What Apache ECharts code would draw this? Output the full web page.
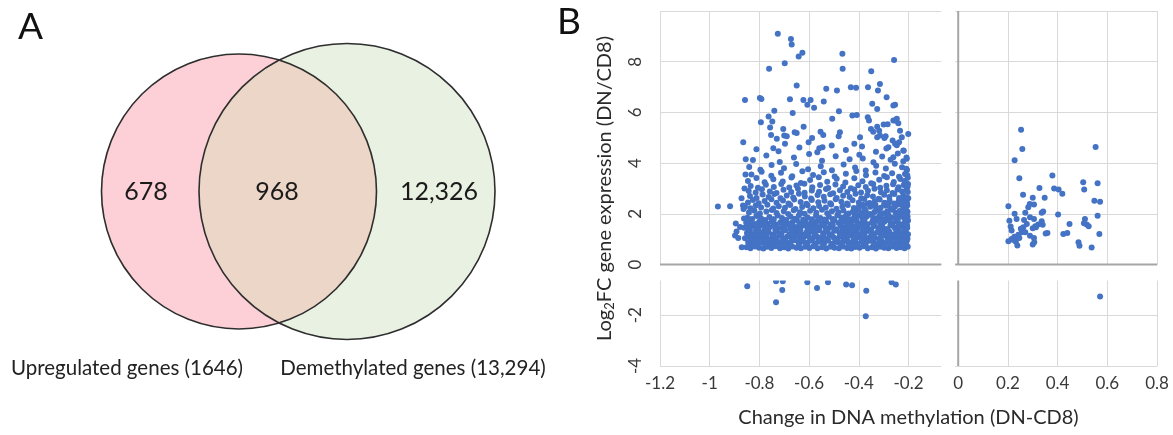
<!DOCTYPE html>
<html>
<head>
<meta charset="utf-8">
<script src="https://cdn.jsdelivr.net/npm/echarts/dist/echarts.min.js"></script>
<style>
  html, body { margin: 0; padding: 0; background: #fff; }
  #chart { width: 1173px; height: 435px; }
</style>
</head>
<body>
<div id="chart"></div>
<script>
// ~~ Data

const vennSetLabels = ['Upregulated genes (1646)', 'Demethylated genes (13,294)']
const vennRegionCounts = [678, 968, 12326]

// demethylated side, upregulated (sparse upper part)
const leftSparse = [
  [-0.726, 9.1], [-0.673, 8.9], [-0.67, 8.68], [-0.627, 8.35], [-0.642, 8.21], [-0.698, 7.94], [-0.466, 8.31], [-0.465, 7.72],
  [-0.761, 7.72], [-0.258, 8.07], [-0.35, 7.62], [-0.65, 7.06], [-0.531, 6.93], [-0.488, 6.86], [-0.432, 6.99], [-0.411, 6.97],
  [-0.363, 6.99], [-0.315, 7.12], [-0.323, 6.86], [-0.858, 6.49], [-0.798, 6.57], [-0.792, 6.53], [-0.677, 6.52], [-0.623, 6.49],
  [-0.594, 6.49], [-0.607, 6.3], [-0.58, 6.18], [-0.541, 6.43], [-0.346, 6.34], [-0.326, 6.14], [-0.288, 6.6], [-0.254, 6.3],
  [-0.74, 6.07], [-0.666, 5.98], [-0.48, 6.05], [-0.426, 5.88], [-0.408, 5.9], [-0.364, 5.81], [-0.359, 5.68], [-0.507, 5.75],
  [-0.763, 5.84], [-0.794, 5.61], [-0.748, 5.64], [-0.757, 5.41], [-0.704, 5.35], [-0.622, 5.44], [-0.658, 5.22], [-0.65, 5.19],
  [-0.554, 5.24], [-0.543, 5.11], [-0.588, 4.99], [-0.602, 4.82], [-0.476, 5.22], [-0.481, 5.06], [-0.395, 5.02], [-0.418, 4.76],
  [-0.351, 5.35], [-0.326, 5.44], [-0.3, 5.52], [-0.284, 5.53], [-0.254, 5.68], [-0.247, 5.75], [-0.241, 5.57], [-0.234, 5.28],
  [-0.318, 5.28], [-0.342, 5.24], [-0.292, 5.06], [-0.326, 5.02], [-0.297, 4.99], [-0.264, 4.89], [-0.238, 4.82], [-0.201, 5.15],
  [-0.865, 4.82], [-0.753, 5.11], [-0.73, 4.96], [-0.744, 4.59], [-0.7, 5.09], [-0.69, 5.06], [-0.697, 4.76], [-0.546, 4.63],
  [-0.559, 4.59], [-0.261, 6.27], [-0.261, 5.68], [-0.227, 5.02], [-0.315, 5.09], [-0.254, 4.76], [-0.281, 4.63], [-0.221, 4.5],
  [-0.261, 4.23], [-0.207, 4.17], [-0.855, 4.15],
  [-0.812, 4.55], [-0.723, 4.47], [-0.639, 4.62], [-0.567, 4.43], [-0.509, 4.7], [-0.452, 4.52], [-0.387, 4.66], [-0.331, 4.45],
  [-0.289, 4.58], [-0.247, 4.71], [-0.219, 4.49],
]

// demethylated side, upregulated (dense lower part)
const leftDense = [
  [-0.852, 0.68], [-0.836, 0.64], [-0.818, 0.71], [-0.801, 0.66], [-0.784, 0.63], [-0.769, 0.7], [-0.752, 0.65], [-0.735, 0.72],
  [-0.717, 0.64], [-0.7, 0.68], [-0.684, 0.63], [-0.668, 0.71], [-0.651, 0.66], [-0.633, 0.64], [-0.616, 0.7], [-0.599, 0.65],
  [-0.583, 0.72], [-0.566, 0.64], [-0.548, 0.68], [-0.531, 0.63], [-0.515, 0.7], [-0.498, 0.66], [-0.48, 0.64], [-0.463, 0.71],
  [-0.447, 0.65], [-0.43, 0.63], [-0.414, 0.69], [-0.397, 0.66], [-0.381, 0.72], [-0.364, 0.64], [-0.347, 0.68], [-0.331, 0.63],
  [-0.314, 0.7], [-0.298, 0.66], [-0.281, 0.64], [-0.265, 0.71], [-0.248, 0.65], [-0.232, 0.68], [-0.216, 0.64], [-0.203, 0.7],
  [-0.845, 0.88], [-0.826, 0.84], [-0.809, 0.93], [-0.79, 0.86], [-0.774, 0.95], [-0.757, 0.83], [-0.741, 0.9], [-0.724, 0.85],
  [-0.707, 0.94], [-0.69, 0.82], [-0.674, 0.89], [-0.657, 0.96], [-0.64, 0.84], [-0.624, 0.91], [-0.606, 0.86], [-0.59, 0.95],
  [-0.574, 0.83], [-0.556, 0.9], [-0.54, 0.87], [-0.523, 0.94], [-0.506, 0.82], [-0.49, 0.89], [-0.472, 0.85], [-0.456, 0.93],
  [-0.439, 0.86], [-0.422, 0.95], [-0.405, 0.83], [-0.389, 0.9], [-0.372, 0.85], [-0.356, 0.94], [-0.339, 0.87], [-0.322, 0.82],
  [-0.306, 0.91], [-0.289, 0.85], [-0.273, 0.94], [-0.256, 0.83], [-0.24, 0.9], [-0.223, 0.86], [-0.207, 0.93],
  [-0.858, 1.04], [-0.84, 1.1], [-0.823, 1.02], [-0.805, 1.13], [-0.788, 1.06], [-0.771, 1.15], [-0.754, 1.01], [-0.737, 1.08],
  [-0.72, 1.14], [-0.703, 1.03], [-0.687, 1.11], [-0.67, 1.05], [-0.653, 1.16], [-0.636, 1.02], [-0.62, 1.09], [-0.602, 1.13],
  [-0.585, 1.04], [-0.569, 1.12], [-0.551, 1.06], [-0.535, 1.01], [-0.518, 1.14], [-0.501, 1.07], [-0.485, 1.03], [-0.468, 1.11],
  [-0.451, 1.05], [-0.434, 1.15], [-0.418, 1.02], [-0.401, 1.09], [-0.385, 1.13], [-0.368, 1.04], [-0.352, 1.11], [-0.335, 1.06],
  [-0.318, 1.01], [-0.302, 1.14], [-0.285, 1.07], [-0.269, 1.03], [-0.252, 1.12], [-0.236, 1.05], [-0.219, 1.15], [-0.204, 1.02],
  [-0.85, 1.25], [-0.832, 1.2], [-0.815, 1.31], [-0.797, 1.22], [-0.781, 1.34], [-0.763, 1.27], [-0.746, 1.19], [-0.729, 1.3],
  [-0.712, 1.23], [-0.696, 1.35], [-0.679, 1.21], [-0.662, 1.28], [-0.645, 1.33], [-0.628, 1.19], [-0.611, 1.26], [-0.594, 1.31],
  [-0.578, 1.22], [-0.56, 1.35], [-0.543, 1.24], [-0.527, 1.29], [-0.51, 1.2], [-0.493, 1.33], [-0.476, 1.25], [-0.46, 1.19],
  [-0.443, 1.3], [-0.426, 1.23], [-0.41, 1.34], [-0.393, 1.21], [-0.376, 1.28], [-0.36, 1.32], [-0.343, 1.2], [-0.327, 1.26],
  [-0.31, 1.35], [-0.293, 1.22], [-0.277, 1.29], [-0.26, 1.19], [-0.244, 1.31], [-0.227, 1.24], [-0.211, 1.33], [-0.202, 1.2],
  [-0.862, 1.45], [-0.845, 1.4], [-0.827, 1.52], [-0.81, 1.43], [-0.793, 1.55], [-0.776, 1.39], [-0.759, 1.47], [-0.742, 1.53],
  [-0.725, 1.41], [-0.708, 1.49], [-0.692, 1.56], [-0.675, 1.42], [-0.658, 1.48], [-0.641, 1.38], [-0.625, 1.54], [-0.607, 1.44],
  [-0.59, 1.5], [-0.573, 1.4], [-0.557, 1.47], [-0.539, 1.55], [-0.523, 1.42], [-0.506, 1.49], [-0.489, 1.39], [-0.472, 1.53],
  [-0.455, 1.45], [-0.439, 1.4], [-0.422, 1.51], [-0.405, 1.43], [-0.389, 1.56], [-0.372, 1.46], [-0.355, 1.39], [-0.339, 1.52],
  [-0.322, 1.44], [-0.306, 1.49], [-0.289, 1.4], [-0.272, 1.54], [-0.256, 1.46], [-0.239, 1.41], [-0.222, 1.52], [-0.205, 1.45],
  [-0.853, 1.65], [-0.836, 1.72], [-0.818, 1.6], [-0.801, 1.69], [-0.785, 1.75], [-0.767, 1.62], [-0.75, 1.7], [-0.733, 1.58],
  [-0.716, 1.66], [-0.699, 1.74], [-0.683, 1.61], [-0.666, 1.68], [-0.649, 1.76], [-0.632, 1.63], [-0.615, 1.71], [-0.598, 1.59],
  [-0.582, 1.67], [-0.565, 1.73], [-0.548, 1.62], [-0.531, 1.69], [-0.514, 1.58], [-0.498, 1.75], [-0.481, 1.64], [-0.464, 1.7],
  [-0.447, 1.6], [-0.431, 1.68], [-0.414, 1.74], [-0.397, 1.62], [-0.38, 1.7], [-0.364, 1.59], [-0.347, 1.66], [-0.331, 1.73],
  [-0.314, 1.61], [-0.297, 1.69], [-0.281, 1.76], [-0.264, 1.63], [-0.247, 1.7], [-0.231, 1.59], [-0.214, 1.67], [-0.202, 1.74],
  [-0.848, 1.85], [-0.829, 1.8], [-0.812, 1.92], [-0.794, 1.83], [-0.76, 1.88], [-0.743, 1.79], [-0.726, 1.94], [-0.709, 1.84],
  [-0.675, 1.9], [-0.658, 1.81], [-0.641, 1.95], [-0.606, 1.86], [-0.589, 1.79], [-0.572, 1.93], [-0.555, 1.84], [-0.52, 1.89],
  [-0.503, 1.8], [-0.486, 1.95], [-0.469, 1.85], [-0.452, 1.91], [-0.435, 1.79], [-0.418, 1.87], [-0.402, 1.94], [-0.385, 1.82],
  [-0.368, 1.9], [-0.351, 1.96], [-0.335, 1.83], [-0.318, 1.89], [-0.301, 1.8], [-0.285, 1.93], [-0.268, 1.86], [-0.251, 1.81],
  [-0.235, 1.92], [-0.218, 1.84], [-0.204, 1.9],
  [-0.842, 2.05], [-0.82, 2.12], [-0.798, 2.01], [-0.772, 2.09], [-0.75, 2.15], [-0.731, 2.03], [-0.702, 2.1], [-0.684, 1.99],
  [-0.662, 2.14], [-0.636, 2.06], [-0.618, 2.0], [-0.596, 2.12], [-0.571, 2.04], [-0.548, 2.16], [-0.527, 2.02], [-0.508, 2.1],
  [-0.482, 2.05], [-0.462, 2.13], [-0.441, 2.01], [-0.424, 2.08], [-0.407, 2.15], [-0.39, 2.03], [-0.372, 2.11], [-0.355, 1.99],
  [-0.337, 2.07], [-0.32, 2.14], [-0.303, 2.02], [-0.286, 2.09], [-0.269, 2.16], [-0.252, 2.04], [-0.236, 2.11], [-0.219, 2.0],
  [-0.204, 2.08],
  [-0.858, 2.28], [-0.836, 2.22], [-0.815, 2.33], [-0.793, 2.25], [-0.768, 2.36], [-0.744, 2.21], [-0.722, 2.3], [-0.697, 2.24],
  [-0.676, 2.35], [-0.655, 2.19], [-0.628, 2.27], [-0.606, 2.34], [-0.583, 2.22], [-0.56, 2.31], [-0.533, 2.25], [-0.511, 2.37],
  [-0.49, 2.2], [-0.466, 2.29], [-0.444, 2.35], [-0.42, 2.23], [-0.399, 2.31], [-0.376, 2.19], [-0.354, 2.28], [-0.333, 2.36],
  [-0.312, 2.24], [-0.291, 2.32], [-0.272, 2.21], [-0.254, 2.29], [-0.237, 2.37], [-0.221, 2.25], [-0.205, 2.33],
  [-0.846, 2.45], [-0.826, 2.55], [-0.803, 2.42], [-0.779, 2.51], [-0.752, 2.58], [-0.731, 2.44], [-0.705, 2.53], [-0.683, 2.41],
  [-0.66, 2.57], [-0.634, 2.47], [-0.611, 2.4], [-0.589, 2.55], [-0.563, 2.46], [-0.538, 2.52], [-0.515, 2.42], [-0.493, 2.58],
  [-0.47, 2.48], [-0.447, 2.41], [-0.425, 2.54], [-0.4, 2.45], [-0.378, 2.59], [-0.357, 2.43], [-0.336, 2.5], [-0.316, 2.57],
  [-0.296, 2.44], [-0.276, 2.52], [-0.258, 2.41], [-0.24, 2.49], [-0.223, 2.56], [-0.206, 2.44],
  [-0.838, 2.7], [-0.812, 2.63], [-0.787, 2.76], [-0.763, 2.66], [-0.74, 2.78], [-0.715, 2.62], [-0.69, 2.72], [-0.664, 2.65],
  [-0.641, 2.79], [-0.617, 2.68], [-0.592, 2.61], [-0.566, 2.74], [-0.541, 2.67], [-0.515, 2.77], [-0.489, 2.63], [-0.463, 2.71],
  [-0.437, 2.66], [-0.413, 2.79], [-0.39, 2.62], [-0.366, 2.73], [-0.343, 2.68], [-0.32, 2.6], [-0.298, 2.75], [-0.277, 2.66],
  [-0.257, 2.78], [-0.238, 2.63], [-0.221, 2.71], [-0.205, 2.64],
  [-0.843, 2.9], [-0.815, 2.84], [-0.79, 2.97], [-0.758, 2.88], [-0.731, 2.82], [-0.703, 2.95], [-0.672, 2.86], [-0.645, 2.99],
  [-0.618, 2.83], [-0.589, 2.92], [-0.56, 2.87], [-0.532, 2.98], [-0.503, 2.81], [-0.476, 2.93], [-0.446, 2.86], [-0.418, 2.96],
  [-0.391, 2.84], [-0.363, 2.91], [-0.337, 2.99], [-0.311, 2.85], [-0.287, 2.93], [-0.264, 2.82], [-0.244, 2.96], [-0.226, 2.88],
  [-0.208, 2.97],
  [-0.835, 3.1], [-0.806, 3.03], [-0.774, 3.15], [-0.742, 3.06], [-0.712, 3.18], [-0.68, 3.04], [-0.651, 3.12], [-0.619, 3.19],
  [-0.587, 3.05], [-0.556, 3.14], [-0.523, 3.02], [-0.494, 3.16], [-0.463, 3.08], [-0.432, 3.01], [-0.402, 3.13], [-0.372, 3.06],
  [-0.342, 3.18], [-0.314, 3.03], [-0.289, 3.11], [-0.262, 3.17], [-0.24, 3.05], [-0.219, 3.14], [-0.204, 3.07],
  [-0.846, 3.3], [-0.812, 3.41], [-0.779, 3.25], [-0.744, 3.36], [-0.706, 3.28], [-0.671, 3.43], [-0.633, 3.22], [-0.596, 3.34],
  [-0.561, 3.44], [-0.527, 3.27], [-0.489, 3.38], [-0.454, 3.24], [-0.418, 3.4], [-0.385, 3.29], [-0.35, 3.21], [-0.318, 3.35],
  [-0.287, 3.44], [-0.259, 3.26], [-0.233, 3.37], [-0.212, 3.23], [-0.203, 3.42],
  [-0.832, 3.55], [-0.791, 3.66], [-0.752, 3.5], [-0.713, 3.62], [-0.668, 3.48], [-0.627, 3.68], [-0.584, 3.53], [-0.541, 3.64],
  [-0.497, 3.47], [-0.452, 3.58], [-0.41, 3.69], [-0.371, 3.52], [-0.333, 3.63], [-0.298, 3.49], [-0.266, 3.6], [-0.238, 3.46],
  [-0.214, 3.57],
  [-0.841, 3.85], [-0.796, 3.74], [-0.751, 3.93], [-0.701, 3.8], [-0.652, 3.97], [-0.604, 3.76], [-0.553, 3.88], [-0.508, 3.72],
  [-0.461, 3.95], [-0.415, 3.83], [-0.372, 3.71], [-0.33, 3.9], [-0.291, 3.79], [-0.255, 3.98], [-0.226, 3.84], [-0.206, 3.73],
  [-0.826, 4.12], [-0.772, 4.3], [-0.718, 4.05], [-0.661, 4.22], [-0.6, 4.36], [-0.548, 4.09], [-0.493, 4.27], [-0.437, 4.15],
  [-0.398, 4.33], [-0.384, 4.18], [-0.341, 4.04], [-0.306, 4.26], [-0.272, 4.13], [-0.243, 4.38], [-0.221, 4.07], [-0.208, 4.22],
  // left edge stragglers
  [-0.967, 2.29], [-0.918, 2.3], [-0.895, 1.62], [-0.892, 1.3], [-0.898, 1.15], [-0.885, 1.05], [-0.871, 0.68], [-0.866, 2.33],
  [-0.864, 2.19], [-0.878, 1.48], [-0.862, 1.82], [-0.872, 2.62], [-0.856, 3.55], [-0.86, 3.0],
  // right edge column
  [-0.201, 2.62], [-0.203, 2.86], [-0.202, 3.18], [-0.205, 3.52], [-0.209, 3.78], [-0.213, 2.48], [-0.216, 3.3], [-0.211, 2.2],
  [-0.214, 1.98],
  // extra fill where the cloud is solid
  [-0.44, 0.78], [-0.423, 0.8], [-0.406, 0.76], [-0.373, 0.78], [-0.339, 0.77], [-0.306, 0.79], [-0.273, 0.78], [-0.24, 0.77],
  [-0.209, 0.8], [-0.447, 0.97], [-0.414, 0.99], [-0.381, 0.97], [-0.347, 0.98], [-0.314, 0.96], [-0.281, 0.99], [-0.248, 0.97],
  [-0.215, 0.98], [-0.443, 1.17], [-0.41, 1.16], [-0.377, 1.18], [-0.343, 1.17], [-0.31, 1.16], [-0.277, 1.18], [-0.243, 1.17],
  [-0.21, 1.16], [-0.451, 1.37], [-0.418, 1.36], [-0.384, 1.37], [-0.35, 1.36], [-0.317, 1.37], [-0.284, 1.36], [-0.25, 1.37],
  [-0.217, 1.36], [-0.439, 1.57], [-0.406, 1.56], [-0.372, 1.57], [-0.339, 1.56], [-0.306, 1.57], [-0.272, 1.56], [-0.239, 1.57],
  [-0.206, 1.56], [-0.444, 1.77], [-0.41, 1.76], [-0.377, 1.77], [-0.343, 1.76], [-0.31, 1.77], [-0.277, 1.76], [-0.243, 1.77],
  [-0.21, 1.76], [-0.448, 1.97], [-0.415, 1.96], [-0.381, 1.97], [-0.348, 1.96], [-0.314, 1.97], [-0.281, 1.96], [-0.247, 1.97],
  [-0.213, 1.96],
  [-0.843, 0.77], [-0.81, 0.79], [-0.776, 0.78], [-0.743, 0.8], [-0.709, 0.77], [-0.676, 0.79], [-0.642, 0.78], [-0.609, 0.8],
  [-0.575, 0.77], [-0.541, 0.79], [-0.508, 0.78], [-0.474, 0.8], [-0.835, 0.97], [-0.8, 0.99], [-0.765, 0.96], [-0.73, 0.98],
  [-0.696, 0.97], [-0.663, 0.99], [-0.629, 0.96], [-0.596, 0.98], [-0.562, 0.97], [-0.529, 0.99], [-0.494, 0.96], [-0.461, 0.98],
  [-0.847, 1.16], [-0.813, 1.18], [-0.779, 1.17], [-0.745, 1.16], [-0.711, 1.18], [-0.677, 1.17], [-0.644, 1.16], [-0.61, 1.18],
  [-0.577, 1.17], [-0.543, 1.16], [-0.51, 1.18], [-0.476, 1.17], [-0.838, 1.36], [-0.804, 1.37], [-0.77, 1.36], [-0.736, 1.37],
  [-0.702, 1.36], [-0.668, 1.37], [-0.635, 1.36], [-0.601, 1.37], [-0.567, 1.36], [-0.533, 1.37], [-0.499, 1.36], [-0.466, 1.37],
  [-0.844, 1.57], [-0.81, 1.56], [-0.776, 1.57], [-0.742, 1.56], [-0.708, 1.58], [-0.674, 1.56], [-0.64, 1.57], [-0.606, 1.56],
  [-0.573, 1.58], [-0.539, 1.56], [-0.505, 1.57], [-0.472, 1.56], [-0.838, 1.77], [-0.777, 1.76], [-0.743, 1.78], [-0.692, 1.76],
  [-0.624, 1.77], [-0.59, 1.76], [-0.538, 1.78], [-0.504, 1.76], [-0.47, 1.77],
  [-0.4, 2.22], [-0.366, 2.4], [-0.33, 2.2], [-0.298, 2.38], [-0.262, 2.22], [-0.229, 2.42], [-0.213, 2.14], [-0.385, 2.36],
  [-0.346, 2.34], [-0.281, 2.4],
]

// hypermethylated side
const rightPoints = [
  [0.253, 5.32], [0.258, 4.56], [0.227, 4.11], [0.553, 4.64], [0.246, 3.4], [0.379, 3.51], [0.503, 3.25], [0.507, 2.96],
  [0.561, 3.21], [0.386, 3.0], [0.404, 2.96], [0.419, 2.79], [0.327, 3.02], [0.261, 2.75], [0.3, 2.64], [0.348, 2.64],
  [0.548, 2.52], [0.571, 2.48], [0.288, 2.39], [0.305, 2.37], [0.282, 2.26], [0.202, 2.3], [0.227, 2.0], [0.27, 2.04],
  [0.336, 2.04], [0.342, 2.09], [0.402, 1.97], [0.561, 1.93], [0.206, 1.73], [0.211, 1.5], [0.215, 1.34], [0.235, 1.8],
  [0.265, 1.76], [0.289, 1.87], [0.305, 1.8], [0.336, 1.71], [0.34, 1.57], [0.322, 1.58], [0.313, 1.47], [0.3, 1.43],
  [0.276, 1.6], [0.262, 1.47], [0.252, 1.41], [0.256, 1.27], [0.242, 1.18], [0.226, 1.1], [0.215, 1.01], [0.202, 0.92],
  [0.229, 0.95], [0.238, 0.75], [0.246, 1.05], [0.27, 1.27], [0.289, 1.14], [0.31, 1.51], [0.352, 1.23], [0.359, 1.25],
  [0.305, 1.05], [0.3, 0.79], [0.306, 0.88], [0.423, 1.21], [0.439, 1.25], [0.448, 1.6], [0.51, 1.8], [0.517, 1.58],
  [0.525, 1.51], [0.506, 1.63], [0.484, 0.88], [0.488, 0.74], [0.537, 0.67], [0.568, 1.21], [0.22, 0.98], [0.232, 0.9],
]

// downregulated genes
const belowZero = [
  [-0.849, -0.85], [-0.733, -0.66], [-0.706, -0.66], [-0.708, -1.0], [-0.733, -1.49], [-0.607, -0.7], [-0.568, -0.92],
  [-0.524, -0.7], [-0.451, -0.79], [-0.427, -0.82], [-0.37, -1.03], [-0.372, -2.04], [-0.268, -0.7], [-0.251, -0.79],
  [0.571, -1.26],
]

// ~~ Layout

const FONT = 'Lato, "Open Sans", sans-serif'
const BLUE = '#4472c4'

const xRange = [-1.2, 0.8]
const yRange = [-4, 10]
const breakX = [-0.068, -0.012]
const breakY = [-0.02, -0.63]

// venn geometry in panel A pixels
const vennCenterX = [239, 347]
const vennCenterY = 191.5
const vennRadius = [137.5, 148]
const vennCountX = [146, 277, 439]
const vennLabelX = [127, 413]
const vennLabelY = 368

const renderVenn = function (params, api) {
  const c1 = api.coord([vennCenterX[0], vennCenterY])
  const c2 = api.coord([vennCenterX[1], vennCenterY])
  const r1 = api.size([vennRadius[0], 0])[0]
  const r2 = api.size([vennRadius[1], 0])[0]
  const d = c2[0] - c1[0]
  const a = (d * d + r1 * r1 - r2 * r2) / (2 * d)
  const h = Math.sqrt(r1 * r1 - a * a)
  const ix = c1[0] + a
  const top = c1[1] - h
  const bottom = c1[1] + h
  const lens = `M${ix} ${top} A${r1} ${r1} 0 0 1 ${ix} ${bottom} A${r2} ${r2} 0 0 1 ${ix} ${top} Z`

  const children = [
    { type: 'circle', shape: { cx: c1[0], cy: c1[1], r: r1 }, style: { fill: '#fcd0d6' } },
    { type: 'circle', shape: { cx: c2[0], cy: c2[1], r: r2 }, style: { fill: '#e9f1e3' } },
    { type: 'path', shape: { pathData: lens }, style: { fill: '#ecd6c8' } },
    { type: 'circle', shape: { cx: c1[0], cy: c1[1], r: r1 }, style: { fill: null, stroke: '#2e2e2e', lineWidth: 1.6 } },
    { type: 'circle', shape: { cx: c2[0], cy: c2[1], r: r2 }, style: { fill: null, stroke: '#2e2e2e', lineWidth: 1.6 } },
  ]

  vennCountX.forEach((x, i) => {
    const p = api.coord([x, vennCenterY])
    children.push({
      type: 'text',
      x: p[0],
      y: p[1],
      style: {
        text: api.value(i).toLocaleString('en-US'),
        fontFamily: FONT,
        fontSize: 25,
        fill: '#1a1a1a',
        align: 'center',
        verticalAlign: 'middle',
      },
    })
  })

  vennLabelX.forEach((x, i) => {
    const p = api.coord([x, vennLabelY])
    children.push({
      type: 'text',
      x: p[0],
      y: p[1],
      style: {
        text: vennSetLabels[i],
        fontFamily: FONT,
        fontSize: 20.5,
        fill: '#222',
        align: 'center',
        verticalAlign: 'middle',
      },
    })
  })

  return { type: 'group', children: children }
}

// broken axes: white gaps over the grid lines, then the darker zero lines
const renderFrame = function (params, api) {
  const tl = api.coord([xRange[0], yRange[1]])
  const br = api.coord([xRange[1], yRange[0]])
  const gx0 = api.coord([breakX[0], 0])[0]
  const gx1 = api.coord([breakX[1], 0])[0]
  const gy0 = api.coord([0, breakY[0]])[1]
  const gy1 = api.coord([0, breakY[1]])[1]
  const zero = api.coord([0, 0])
  const axisStyle = { stroke: '#a6a6a6', lineWidth: 2 }

  return {
    type: 'group',
    children: [
      { type: 'rect', shape: { x: gx0, y: tl[1] - 2, width: gx1 - gx0, height: br[1] - tl[1] + 4 }, style: { fill: '#fff' } },
      { type: 'rect', shape: { x: tl[0] - 2, y: gy0, width: br[0] - tl[0] + 4, height: gy1 - gy0 }, style: { fill: '#fff' } },
      { type: 'line', shape: { x1: tl[0], y1: zero[1], x2: gx0, y2: zero[1] }, style: axisStyle },
      { type: 'line', shape: { x1: gx1, y1: zero[1], x2: br[0], y2: zero[1] }, style: axisStyle },
      { type: 'line', shape: { x1: zero[0], y1: tl[1], x2: zero[0], y2: zero[1] }, style: axisStyle },
      { type: 'line', shape: { x1: zero[0], y1: gy1, x2: zero[0], y2: br[1] }, style: axisStyle },
    ],
  }
}

const hiddenAxis = { show: false, type: 'value' }

const option = {
  animation: false,
  title: [
    { text: 'A', left: 13, top: 4, textStyle: { fontFamily: FONT, fontSize: 37, fontWeight: 'normal', color: '#111' } },
    { text: 'B', left: 552, top: -1, textStyle: { fontFamily: FONT, fontSize: 37, fontWeight: 'normal', color: '#111' } },
  ],
  grid: [
    { left: 660, top: 11, width: 497, height: 355 },
    { left: 0, top: 0, width: 560, height: 435 },
  ],
  xAxis: [
    {
      gridIndex: 0,
      type: 'value',
      min: xRange[0],
      max: xRange[1],
      interval: 0.2,
      axisLine: { show: false },
      axisTick: { show: false },
      axisLabel: { fontFamily: FONT, fontSize: 17, color: '#3a3a3a', margin: 9 },
      splitLine: { show: true, lineStyle: { color: '#d9d9d9', width: 1 } },
      name: 'Change in DNA methylation (DN-CD8)',
      nameLocation: 'middle',
      nameGap: 42,
      nameTextStyle: { fontFamily: FONT, fontSize: 20, color: '#2a2a2a' },
    },
    { ...hiddenAxis, gridIndex: 1, min: 0, max: 560 },
  ],
  yAxis: [
    {
      gridIndex: 0,
      type: 'value',
      min: yRange[0],
      max: yRange[1],
      interval: 2,
      axisLine: { show: false },
      axisTick: { show: false },
      axisLabel: { fontFamily: FONT, fontSize: 17, color: '#3a3a3a', margin: 16, rotate: 90, showMaxLabel: false },
      splitLine: { show: true, lineStyle: { color: '#d9d9d9', width: 1 } },
      name: '{t|Log}{s|2}{t|FC gene expression (DN/CD8)}',
      nameLocation: 'middle',
      nameRotate: 90,
      nameGap: 44,
      nameTextStyle: {
        rich: {
          t: { fontFamily: FONT, fontSize: 20, color: '#2a2a2a' },
          s: { fontFamily: FONT, fontSize: 13, color: '#2a2a2a', padding: [10, 0, 0, 0] },
        },
      },
    },
    { ...hiddenAxis, gridIndex: 1, min: 0, max: 435, inverse: true },
  ],
  series: [
    {
      type: 'scatter',
      xAxisIndex: 0,
      yAxisIndex: 0,
      symbolSize: 6,
      itemStyle: { color: BLUE, opacity: 1 },
      silent: true,
      z: 2,
      data: leftSparse.concat(leftDense, rightPoints, belowZero),
    },
    {
      type: 'custom',
      xAxisIndex: 0,
      yAxisIndex: 0,
      renderItem: renderFrame,
      data: [[0, 0]],
      clip: false,
      silent: true,
      z: 3,
    },
    {
      type: 'custom',
      xAxisIndex: 1,
      yAxisIndex: 1,
      renderItem: renderVenn,
      data: [vennRegionCounts],
      clip: false,
      silent: true,
    },
  ],
}

const c = echarts.init(document.getElementById('chart'), null, { renderer: 'canvas' })
c.setOption(option)
</script>
</body>
</html>
